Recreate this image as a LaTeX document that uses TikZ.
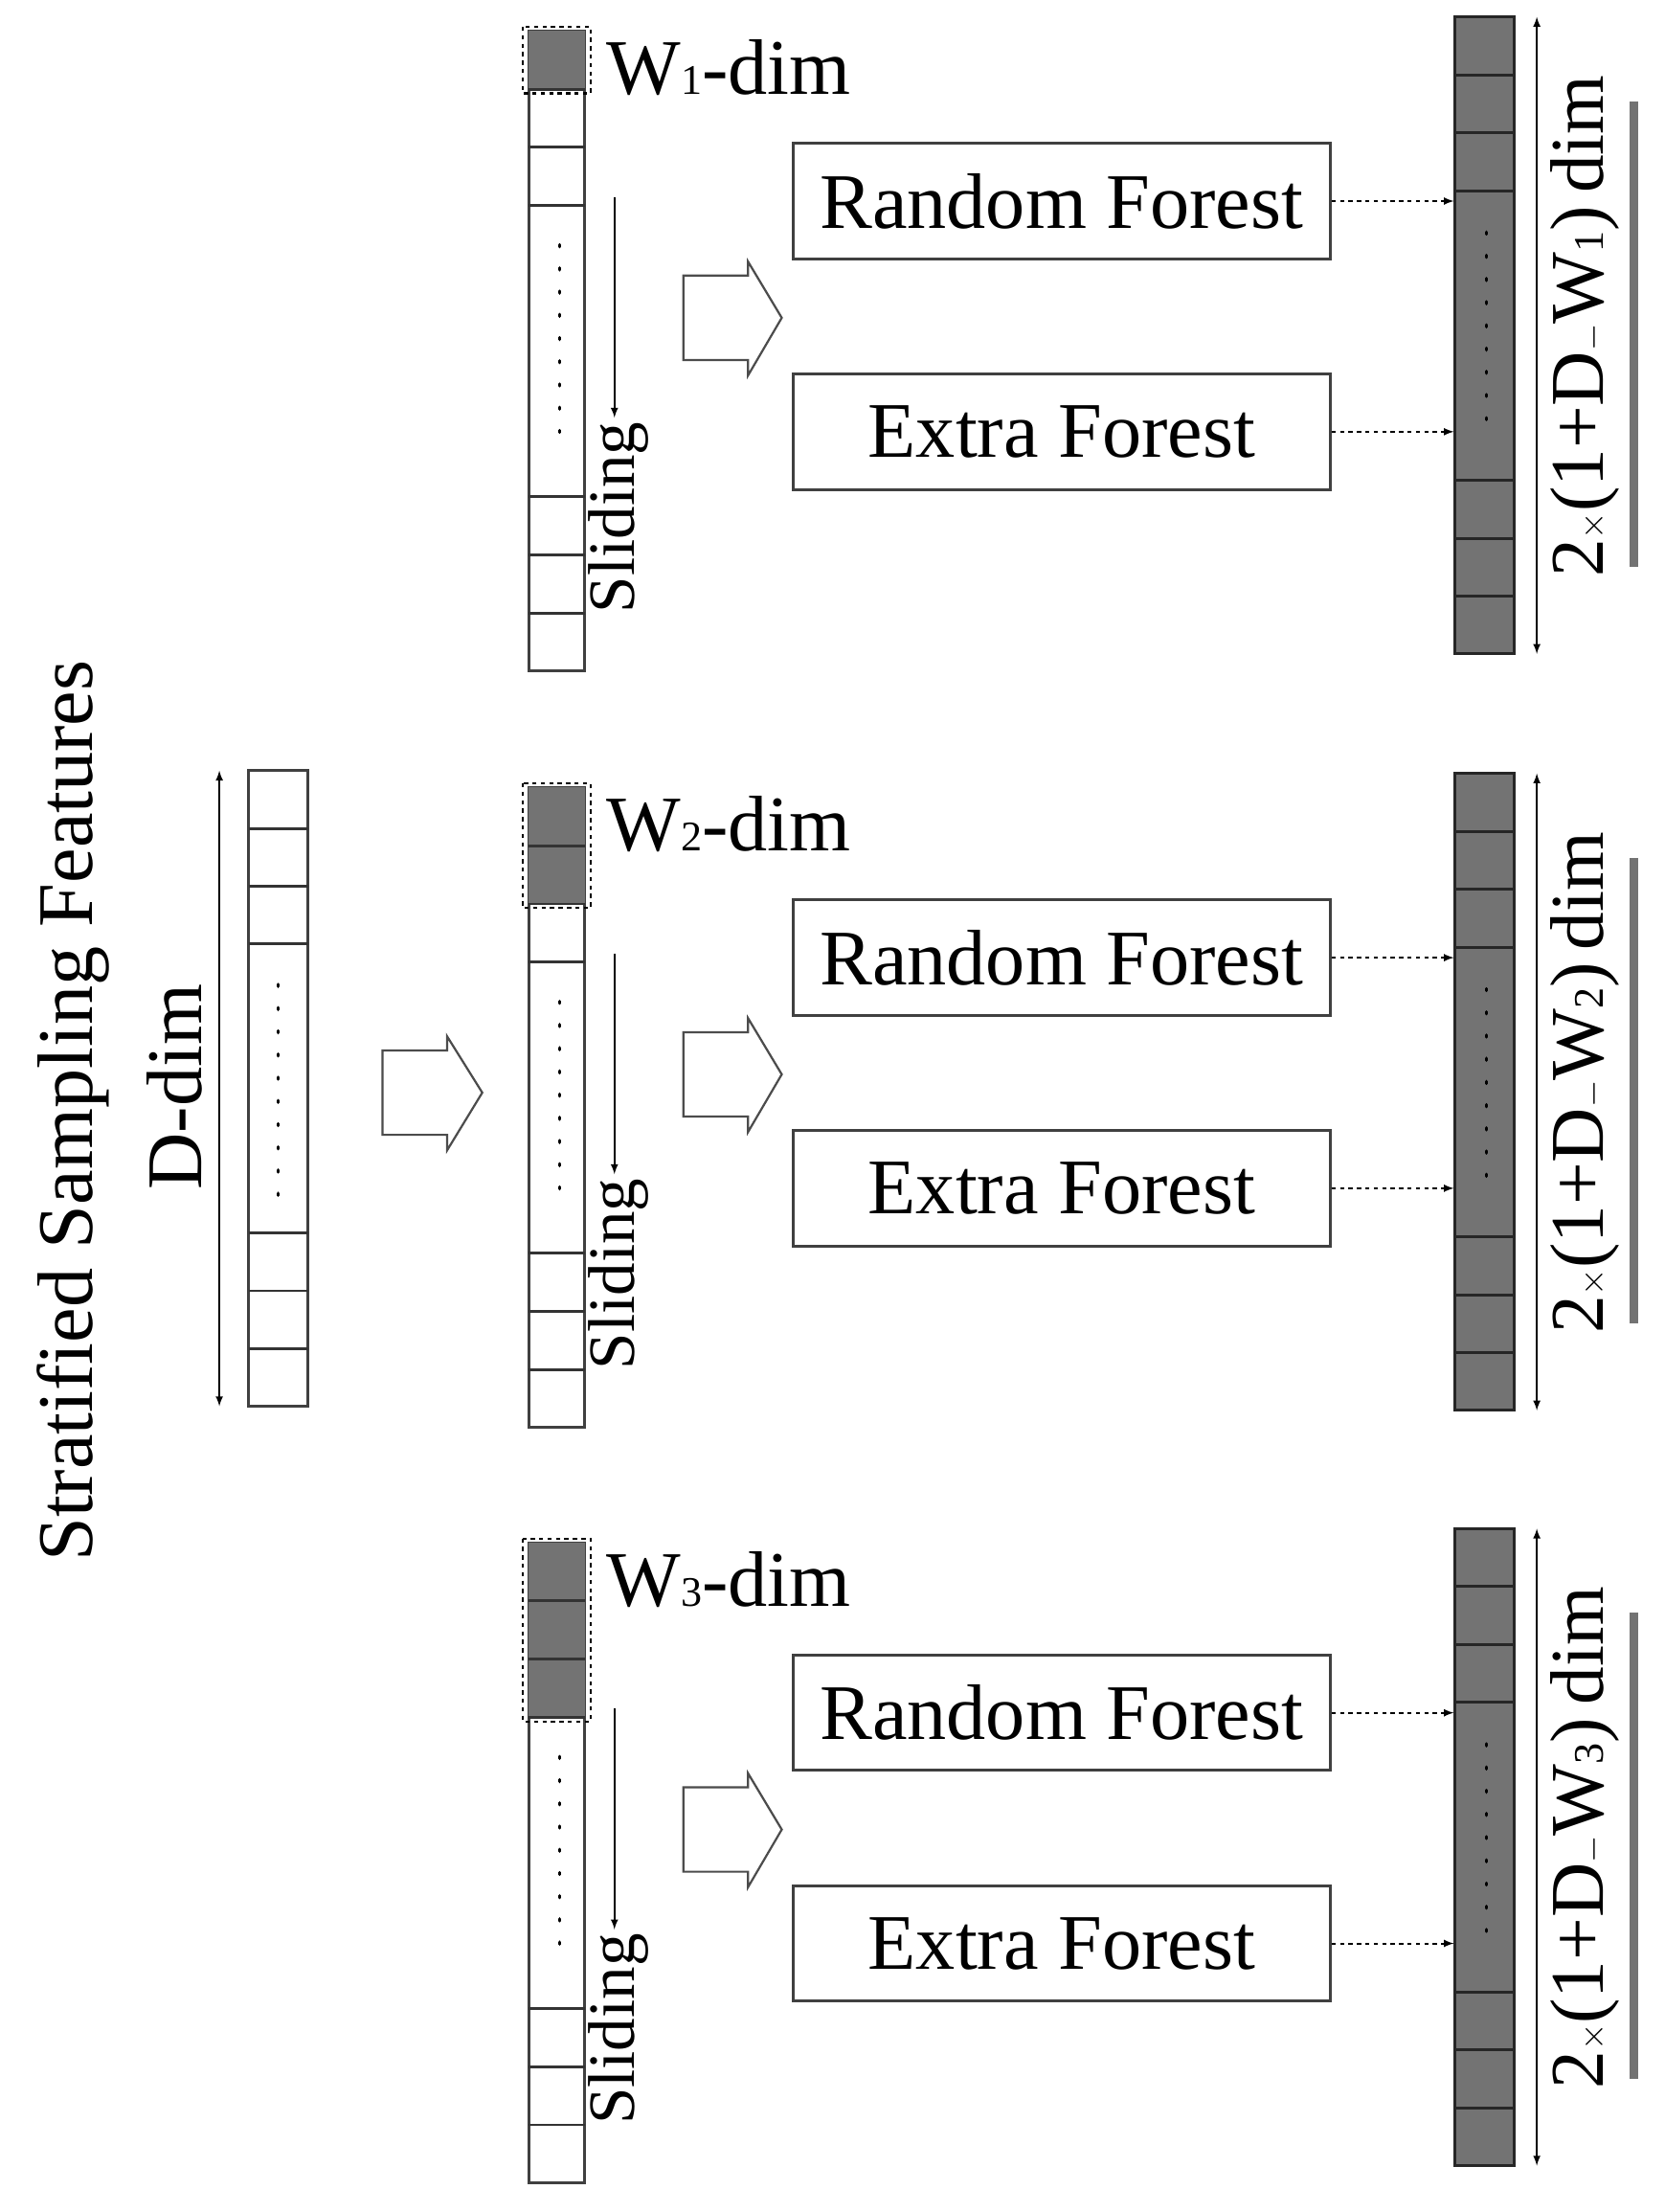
\documentclass[tikz,border=0pt]{standalone}
\usepackage{fontspec}
\setmainfont{Liberation Serif}
\begin{document}
\begin{tikzpicture}[x=1pt,y=-1pt,
  col/.style={draw=black!75,line width=2pt,inner sep=0pt,fill=white},
  box/.style={draw=black!75,line width=2pt,inner sep=0pt,minimum width=382pt,minimum height=82pt,font=\fontsize{56}{60}\selectfont},
  big/.style={font=\fontsize{56}{60}\selectfont},
  cell/.style={line width=2pt,draw=black!80},
  dots/.style={line width=2.2pt,dash pattern=on 1.5pt off 15pt,line cap=round},
  blk/.style={draw=black!70,line width=1.5pt,fill=white,line join=miter},
  dashar/.style={dashed,line width=1.4pt,-latex},
  dimar/.style={line width=1.4pt,latex-latex}]
\useasboundingbox (0,0) rectangle (1184,1573);
% left column
\node[col,minimum width=42pt,minimum height=452pt] (din) at (198,774) {};
\foreach \k in {1,2,3,8,9,10} \draw[cell] (177,548+\k*41.1) -- (219,548+\k*41.1);
\draw[dots] (198,700) -- (198,850);
\coordinate (dt) at (156,548); \coordinate (db) at (156,1000);
\draw[dimar] (dt) -- (db);
\node[big,rotate=90] (ddim) at (124,773) {D-dim};
\node[big,rotate=90] (strat) at (52,790) {Stratified Sampling Features};
\draw[blk] (272,747) -- (318,747) -- (318,737) -- (343,777) -- (318,818) -- (318,807) -- (272,807) -- cycle;
\foreach \s/\o in {1/0,2/538,3/1075}{
  % middle column
  \node[col,minimum width=40pt,minimum height=455pt] (mid\s) at (396,249.5+\o) {};
  \foreach \k in {1,...,\s} \fill[black!55] (376,22+\o+\k*41.4-41.4) rectangle (416,22+\o+\k*41.4);
  \foreach \k in {1,...,3} \draw[cell] (376,22+\o+\k*41.4) -- (416,22+\o+\k*41.4);
  \foreach \k in {8,9,10} \draw[cell] (376,22+\o+\k*41.4) -- (416,22+\o+\k*41.4);
  \draw[line width=1.4pt,dashed] (372,19+\o) rectangle (420,25+\o+\s*41.4);
  \draw[dots] (398,\o+174) -- (398,\o+322);
  \node[big,anchor=west] (w\s) at (428,48+\o) {W\fontsize{30}{30}\selectfont\s\fontsize{56}{60}\selectfont-dim};
  \coordinate (st\s) at (437,140+\o); \coordinate (se\s) at (437,297+\o);
  \draw[line width=1.4pt,-latex] (st\s) -- (se\s);
  \node[rotate=90,font=\fontsize{47}{50}\selectfont] (sl\s) at (440,368+\o) {Sliding};
  % block arrow
  \draw[blk] (486,\o+196) -- (532,\o+196) -- (532,\o+186) -- (556,\o+226) -- (532,\o+267) -- (532,\o+256) -- (486,\o+256) -- cycle;
  % forests
  \node[box] (rf\s) at (755,143+\o) {Random Forest};
  \node[box] (ef\s) at (755,307+\o) {Extra Forest};
  % output column
  \node[col,fill=black!55,draw=black!85,minimum width=42pt,minimum height=453pt] (out\s) at (1056,238.5+\o) {};
  \foreach \k in {1,2,3,8,9,10} \draw[cell,draw=black!85] (1035,12+\o+\k*41.2) -- (1077,12+\o+\k*41.2);
  \draw[dots] (1057,\o+165) -- (1057,\o+312);
  \draw[dashar] (rf\s.east) -- (out\s.west |- rf\s.east);
  \draw[dashar] (ef\s.east) -- (out\s.west |- ef\s.east);
  \coordinate (ot\s) at (1093,12+\o); \coordinate (ob\s) at (1093,465+\o);
  \draw[dimar] (ot\s) -- (ob\s);
  \node[rotate=90,font=\fontsize{54}{56}\selectfont] (lab\s) at (1127,232+\o) {2$\times$(1+D$-$W\fontsize{30}{30}\selectfont\s\fontsize{54}{56}\selectfont)\,dim};
  \coordinate (gb\s) at (1162,72+\o); \coordinate (ge\s) at (1162,403+\o);
  \draw[line width=6pt,black!55] (gb\s) -- (ge\s);
}
\end{tikzpicture}
\end{document}
